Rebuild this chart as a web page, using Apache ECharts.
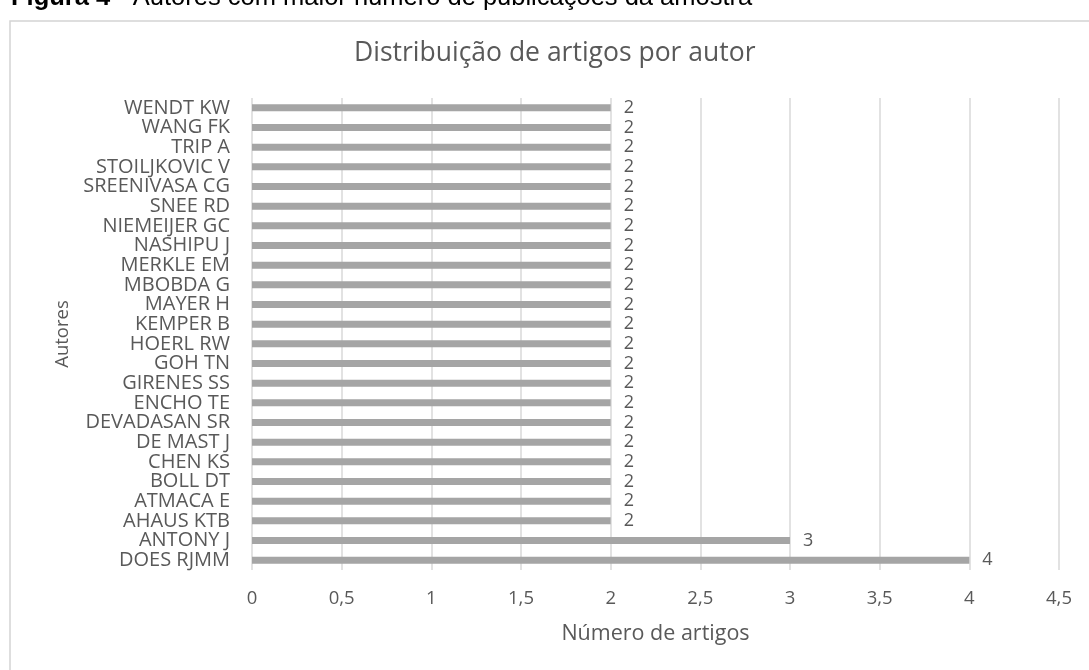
<!DOCTYPE html>
<html>
<head>
<meta charset="utf-8">
<script src="https://cdn.jsdelivr.net/npm/echarts@6/dist/echarts.min.js"></script>
<style>
  html, body { margin: 0; padding: 0; background: #fff; }
  #chart { width: 1089px; height: 670px; }
</style>
</head>
<body>
<div id="chart"></div>
<script>
// Authors, listed top to bottom
const authors = [
  'WENDT KW', 'WANG FK', 'TRIP A', 'STOILJKOVIC V', 'SREENIVASA CG', 'SNEE RD',
  'NIEMEIJER GC', 'NASHIPU J', 'MERKLE EM', 'MBOBDA G', 'MAYER H', 'KEMPER B',
  'HOERL RW', 'GOH TN', 'GIRENES SS', 'ENCHO TE', 'DEVADASAN SR', 'DE MAST J',
  'CHEN KS', 'BOLL DT', 'ATMACA E', 'AHAUS KTB', 'ANTONY J', 'DOES RJMM'
];
// Number of articles per author
const articles = [
  2, 2, 2, 2, 2, 2,
  2, 2, 2, 2, 2, 2,
  2, 2, 2, 2, 2, 2,
  2, 2, 2, 2, 3, 4
];
const captionBold = 'Figura 4';
const captionText = ' - Autores com maior número de publicações da amostra';
const chartTitle = 'Distribuição de artigos por autor';
const xName = 'Número de artigos';
const yName = 'Autores';

const textGray = '#595959';
const font = '"Open Sans", sans-serif';

const chart = echarts.init(document.getElementById('chart'), null, { renderer: 'canvas' });
chart.setOption({
  backgroundColor: '#ffffff',
  animation: false,
  title: {
    text: chartTitle,
    left: 349,
    top: 35,
    textStyle: { fontFamily: font, fontSize: 26.5, fontWeight: 'normal', color: textGray }
  },
  graphic: [
    {
      type: 'rect',
      shape: { x: 10, y: 21, width: 1200, height: 800 },
      style: { fill: 'none', stroke: '#d4d4d4', lineWidth: 1.5 },
      silent: true
    },
    {
      type: 'text',
      x: 11,
      y: 11,
      style: {
        text: '{b|' + captionBold + '}{r|' + captionText + '}',
        verticalAlign: 'bottom',
        rich: {
          b: { fontFamily: '"Liberation Sans", Arial, sans-serif', fontSize: 25.5, fontWeight: 'bold', fill: '#000' },
          r: { fontFamily: '"Liberation Sans", Arial, sans-serif', fontSize: 25.5, fill: '#000' }
        }
      },
      silent: true
    }
  ],
  grid: { left: 252, right: 30, top: 98, bottom: 100, containLabel: false },
  xAxis: {
    type: 'value',
    min: 0,
    max: 4.5,
    interval: 0.5,
    name: xName,
    nameLocation: 'middle',
    nameGap: 53,
    nameTextStyle: { fontFamily: font, fontSize: 21.5, color: textGray },
    axisLine: { show: false },
    axisTick: { show: false },
    axisLabel: {
      margin: 19,
      fontFamily: font,
      fontSize: 18.5,
      color: textGray,
      formatter: v => String(v).replace('.', ',')
    },
    splitLine: { show: true, lineStyle: { color: '#d9d9d9', width: 1.5 } }
  },
  yAxis: {
    type: 'category',
    data: authors,
    inverse: true,
    name: yName,
    nameLocation: 'middle',
    nameRotate: 90,
    nameGap: 180,
    nameTextStyle: { fontFamily: font, fontSize: 18.5, color: textGray },
    axisLine: { show: false },
    axisTick: { show: false },
    axisLabel: { margin: 22, fontFamily: font, fontSize: 20, color: textGray, interval: 0 },
    splitLine: { show: false }
  },
  series: [{
    type: 'bar',
    data: articles,
    barWidth: 7,
    itemStyle: { color: '#a5a5a5' },
    label: {
      show: true,
      position: 'right',
      distance: 13,
      fontFamily: font,
      fontSize: 18,
      color: textGray
    }
  }]
});
</script>
</body>
</html>
